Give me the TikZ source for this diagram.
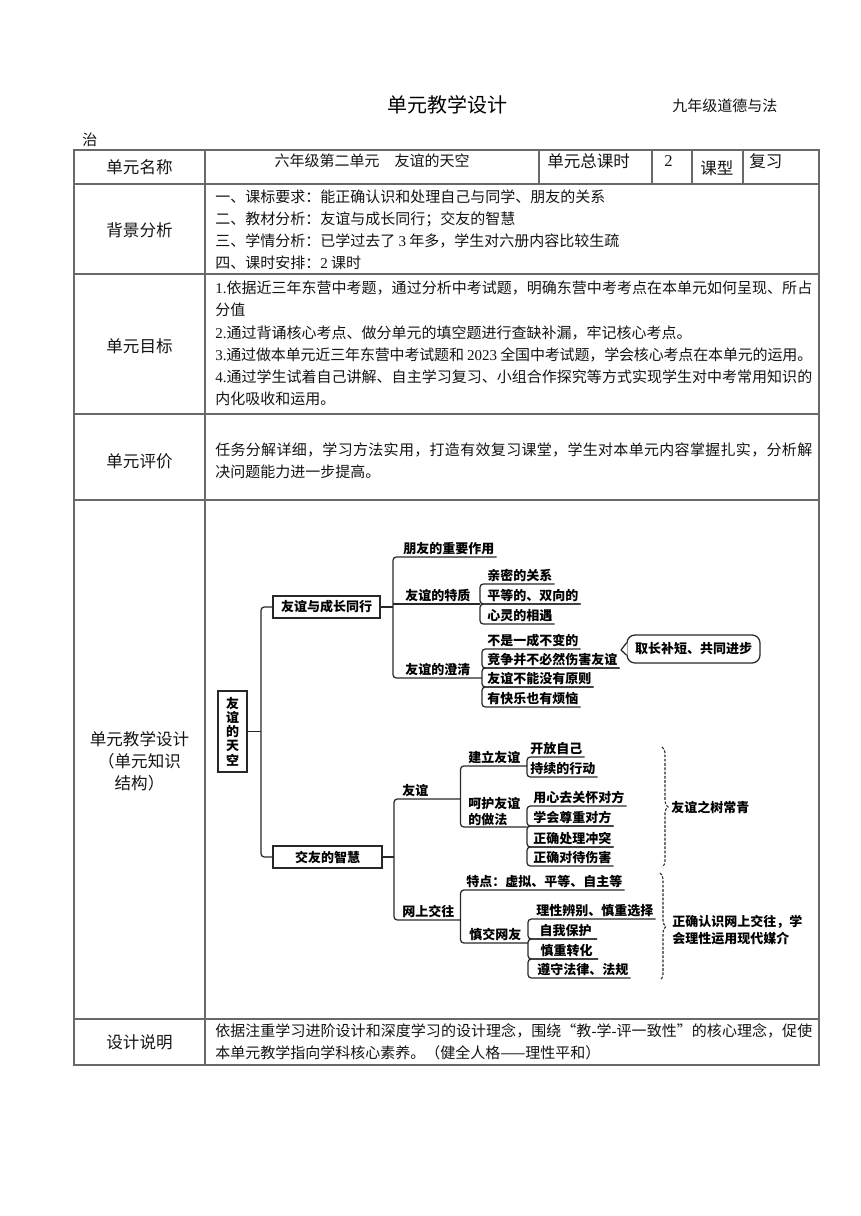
\documentclass[tikz,border=0pt]{standalone}
\usepackage{fontspec}
\setmainfont{Noto Sans CJK SC}
\newfontfamily\lat{Liberation Serif}
\usetikzlibrary{decorations.pathreplacing}
\newlength\pxu \setlength\pxu{0.75pt}
\definecolor{tabgray}{RGB}{105,105,105}
\definecolor{lncol}{RGB}{40,40,40}
\definecolor{txtc}{RGB}{20,20,20}
\ExplSyntaxOn
\cs_new_protected:Npn \jline #1#2
  { \hbox_to_wd:nn {#1} { \tl_map_inline:nn {#2} { {##1} \hskip ~ 0pt ~ plus ~ 1fil ~ minus ~ 0.3pt ~ } \unskip } }
\ExplSyntaxOff
\newcommand\fbody{\fontsize{11.25pt}{13pt}\selectfont}
\newcommand\flab{\fontsize{12.4pt}{16.5pt}\selectfont}
\newcommand\fdg{\fontsize{9.75pt}{11pt}\selectfont\bfseries}
\newcommand\brk[3]{\draw[rc] (#2.south east) -- (#2.south west -| #1) -- (#3.south west -| #1) -- (#3.south east);}
\begin{document}
\begin{tikzpicture}[x=0.75pt,y=-0.75pt,
  tbl/.style={draw=tabgray, line width=0.9pt},
  lbl/.style={font=\flab, inner sep=0pt, text=txtc},
  txt/.style={font=\fbody, anchor=west, inner sep=0pt, text=txtc},
  conn/.style={draw=lncol, line width=0.95pt},
  rc/.style={conn, rounded corners=2.5pt},
  leaf/.style={font=\fdg, anchor=south west, inner xsep=1.5pt, inner ysep=1pt, text height=8.6pt, text depth=1.3pt},
  box/.style={draw=lncol, line width=0.95pt, font=\fdg, minimum height=16.5pt, inner sep=1pt},
  brc/.style={draw=lncol, line width=0.8pt, decorate, decoration={brace, amplitude=4.5pt}, dash pattern=on 2pt off 1.2pt},
  dgt/.style={font=\fdg, inner sep=0pt}
]
\useasboundingbox (0,0) rectangle (860,1216);
\fill[white] (0,0) rectangle (860,1216);

% ---------- heading ----------
\node[inner sep=0pt] (ttl) at (447,105) {\fontsize{15pt}{18pt}\selectfont 单元教学设计};
\node[txt] (ttl2) at (672,106) {九年级道德与法};
\node[txt] (zhi) at (82,140) {治};

% ---------- table grid ----------
\draw[tbl] (74,150) rectangle (819,1065);
\foreach \yy in {184,274,414,500,1019} \draw[tbl] (74,\yy) -- (819,\yy);
\draw[tbl] (205,150) -- (205,1065);
\foreach \xx in {539,652,692,743} \draw[tbl] (\xx,150) -- (\xx,184);

% ---------- row 1 ----------
\node[lbl] (l1) at (139.5,167) {单元名称};
\node[txt, anchor=center] (r1a) at (372,161) {六年级第二单元　友谊的天空};
\node[lbl, anchor=west] (r1b) at (547,161) {单元总课时};
\node[lbl, anchor=west] (r1c) at (664,161) {\lat 2};
\node[lbl, anchor=west] (r1d) at (700,168) {课型};
\node[lbl, anchor=west] (r1e) at (749,161) {复习};

% ---------- row 2 ----------
\node[lbl] (l2) at (139.5,230) {背景分析};
\node[txt] (b1) at (215,197) {一、课标要求：能正确认识和处理自己与同学、朋友的关系};
\node[txt] (b2) at (215,219) {二、教材分析：友谊与成长同行；交友的智慧};
\node[txt] (b3) at (215,241) {三、学情分析：已学过去了 {\lat 3} 年多，学生对六册内容比较生疏};
\node[txt] (b4t) at (215,263) {四、课时安排：{\lat 2} 课时};

% ---------- row 3 ----------
\node[lbl] (l3) at (139.5,346) {单元目标};
\node[txt] (g1) at (215,288) {\jline{597\pxu}{{\lat 1.}依据近三年东营中考题，通过分析中考试题，明确东营中考考点在本单元如何呈现、所占}};
\node[txt] (g2) at (215,310) {分值};
\node[txt] (g3) at (215,333) {{\lat 2.}通过背诵核心考点、做分单元的填空题进行查缺补漏，牢记核心考点。};
\node[txt] (g4) at (215,355) {\jline{597\pxu}{{\lat 3.}通过做本单元近三年东营中考试题和{\lat\ 2023\ }全国中考试题，学会核心考点在本单元的运用。}};
\node[txt] (g5) at (215,377) {\jline{597\pxu}{{\lat 4.}通过学生试着自己讲解、自主学习复习、小组合作探究等方式实现学生对中考常用知识的}};
\node[txt] (g6) at (215,399) {内化吸收和运用。};

% ---------- row 4 ----------
\node[lbl] (l4) at (139.5,461) {单元评价};
\node[txt] (p1) at (215,450) {\jline{597\pxu}{任务分解详细，学习方法实用，打造有效复习课堂，学生对本单元内容掌握扎实，分析解}};
\node[txt] (p2) at (215,472) {决问题能力进一步提高。};

% ---------- row 6 ----------
\node[lbl] (l6) at (139.5,1042) {设计说明};
\node[txt] (d1) at (215,1031) {\jline{597\pxu}{依据注重学习进阶设计和深度学习的设计理念，围绕“教{\lat -}学{\lat -}评一致性”的核心理念，促使}};
\node[txt] (d2) at (215,1053) {本单元教学指向学科核心素养。（健全人格——理性平和）};

% ---------- row 5 label ----------
\node[lbl, align=center, font=\fontsize{12.4pt}{16.5pt}\selectfont] (l5) at (139.5,761) {单元教学设计\\（单元知识\\结构）};

% ---------- diagram ----------
\node[draw=lncol, line width=0.95pt, align=center, inner sep=0pt, minimum width=21.75pt, minimum height=60.75pt,
      font=\fontsize{9.75pt}{10.7pt}\selectfont\bfseries] (root) at (232.5,731.5) {友\\谊\\的\\天\\空};
\node[box, minimum width=80.25pt] (A) at (326.5,607) {友谊与成长同行};
\node[box, minimum width=81.75pt] (B) at (327.5,857) {交友的智慧};

\coordinate (tk) at (261,0);
\coordinate (v2) at (393,0);
\coordinate (v2b) at (394,0);
\coordinate (b3a) at (480,0);
\coordinate (b3b) at (482,0);
\coordinate (b3c) at (460.5,0);
\coordinate (b4) at (527,0);
\coordinate (b5) at (528,0);

\draw[conn] (root.east) -- (root.east -| tk);
\draw[rc] (A.west) -- (A.west -| tk) -- (B.west -| tk) -- (B.west);

% branch A
\node[leaf] (pf) at (401,557) {朋友的重要作用};
\node[leaf] (tz) at (403,604) {友谊的特质};
\node[leaf] (cq) at (403,678) {友谊的澄清};
\draw[conn] (A.east) -- (A.east -| v2);
\draw[rc] (pf.south east) -- (pf.south west -| v2) -- (cq.south west -| v2) -- (cq.south west -| b3b);
\draw[conn] (tz.south west -| v2) -- (tz.south west -| b3a);

\node[leaf] (t1) at (485,584) {亲密的关系};
\node[leaf] (t2) at (485,604) {平等的、双向的};
\node[leaf] (t3) at (485,624) {心灵的相遇};
\brk{b3a}{t1}{t2}
\brk{b3a}{t2}{t3}

\node[leaf] (c1) at (485,649) {不是一成不变的};
\node[leaf] (c2) at (485,668) {竞争并不必然伤害友谊};
\node[leaf] (c3) at (485,687) {友谊不能没有原则};
\node[leaf] (c4) at (485,707) {有快乐也有烦恼};
\brk{b3b}{c1}{c2}
\brk{b3b}{c2}{c3}
\brk{b3b}{c3}{c4}

\node[draw=lncol, line width=0.95pt, rounded corners=6pt, font=\fdg, minimum width=99.75pt, minimum height=21pt, inner sep=1pt] (qc) at (693.5,649) {取长补短、共同进步};
\coordinate (qtip) at (621,650);
\fill[white] ([yshift=4.5pt,xshift=0.8pt]qc.west) -- (qtip) -- ([yshift=-4.5pt,xshift=0.8pt]qc.west) -- cycle;
\draw[conn, line join=round] ([yshift=4.5pt]qc.west) -- (qtip) -- ([yshift=-4.5pt]qc.west);

% branch B
\node[leaf] (yy) at (400,799) {友谊};
\node[leaf] (ws) at (400,920) {网上交往};
\draw[conn] (B.east) -- (B.east -| v2b);
\draw[rc] (yy.south west -| b3c) -- (yy.south west -| v2b) -- (ws.south west -| v2b) -- (ws.south west -| b3c);

\node[leaf] (jl) at (466,766) {建立友谊};
\node[font=\fontsize{9.75pt}{12pt}\selectfont\bfseries, anchor=south west, align=left, inner xsep=1.5pt, inner ysep=1pt] (hh) at (466,827) {呵护友谊\\的做法};
\draw[rc] (jl.south west -| b4) -- (jl.south west -| b3c) -- (hh.south west -| b3c) -- (hh.south west -| b4);

\node[leaf] (k1) at (528,757) {开放自己};
\node[leaf] (k2) at (528,777) {持续的行动};
\brk{b4}{k1}{k2}

\node[leaf] (h1) at (531,806) {用心去关怀对方};
\node[leaf] (h2) at (531,826) {学会尊重对方};
\node[leaf] (h3) at (531,847) {正确处理冲突};
\node[leaf] (h4) at (531,866) {正确对待伤害};
\brk{b4}{h1}{h2}
\brk{b4}{h2}{h3}
\brk{b4}{h3}{h4}

\node[leaf] (td) at (464,890) {特点：虚拟、平等、自主等};
\node[leaf] (sj) at (467,943) {慎交网友};
\draw[rc] (td.south east) -- (td.south west -| b3c) -- (sj.south west -| b3c) -- (sj.south west -| b5);

\node[leaf] (s1) at (534,919) {理性辨别、慎重选择};
\node[leaf, inner xsep=4pt] (s2) at (534,939) {自我保护};
\node[leaf, inner xsep=4pt] (s3) at (535,959) {慎重转化};
\node[leaf] (s4) at (535,978) {遵守法律、法规};
\brk{b5}{s1}{s2}
\brk{b5}{s2}{s3}
\brk{b5}{s3}{s4}

% dashed braces
\coordinate (r1t) at (662,747);
\coordinate (r1b) at (662,867);
\draw[brc] (r1t) -- (r1b);
\node[dgt, anchor=west] (zs) at (671,807) {友谊之树常青};

\coordinate (r2t) at (660,873);
\coordinate (r2b) at (660,980);
\draw[brc] (r2t) -- (r2b);
\node[dgt, anchor=west, align=left, font=\fontsize{9.75pt}{12.75pt}\selectfont\bfseries] (zq) at (672,930.5) {正确认识网上交往，学\\会理性运用现代媒介};
\end{tikzpicture}
\end{document}
